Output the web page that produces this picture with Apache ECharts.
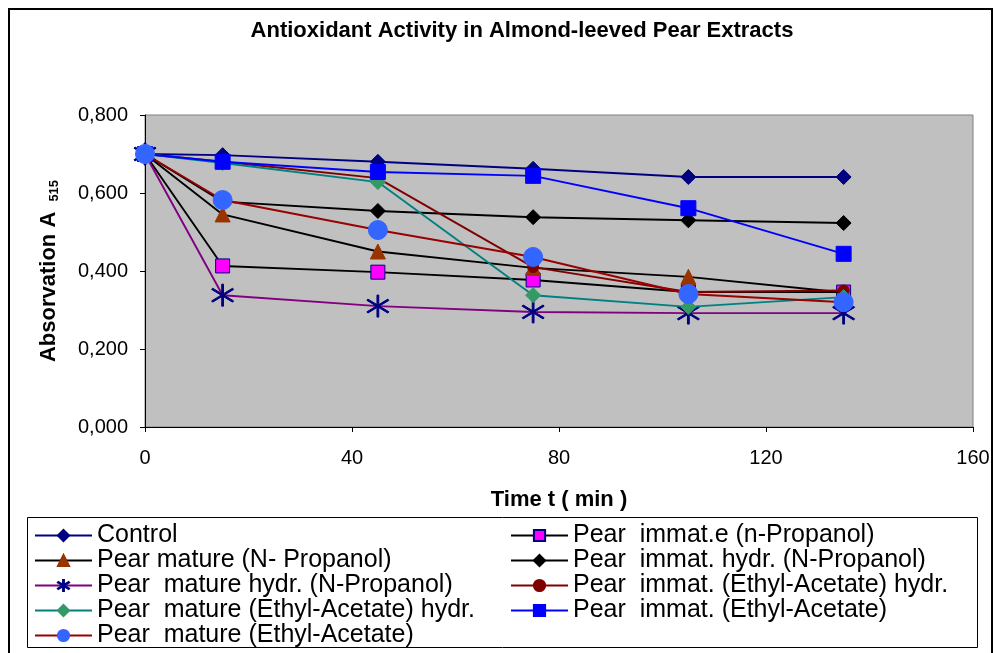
<!DOCTYPE html>
<html>
<head>
<meta charset="utf-8">
<script src="https://cdn.jsdelivr.net/npm/echarts@6/dist/echarts.min.js"></script>
<style>
html,body{margin:0;padding:0;background:#fff;}
#chart{width:993px;height:653px;}
</style>
</head>
<body>
<div id="chart"></div>
<script>
const times = [0, 15, 45, 75, 105, 135];
const xTicks = [0, 40, 80, 120, 160];
const yTicks = [0, 0.2, 0.4, 0.6, 0.8];

const seriesNames = [
  'Control',
  'Pear  immat.e (n-Propanol)',
  'Pear mature (N- Propanol)',
  'Pear  immat. hydr. (N-Propanol)',
  'Pear  mature hydr. (N-Propanol)',
  'Pear  immat. (Ethyl-Acetate) hydr.',
  'Pear  mature (Ethyl-Acetate) hydr.',
  'Pear  immat. (Ethyl-Acetate)',
  'Pear  mature (Ethyl-Acetate)'
];

const control            = [0.700, 0.697, 0.680, 0.662, 0.641, 0.641];
const immatNProp         = [0.700, 0.413, 0.397, 0.377, 0.346, 0.346];
const matureNProp        = [0.700, 0.545, 0.450, 0.408, 0.385, 0.345];
const immatHydrNProp     = [0.700, 0.578, 0.554, 0.538, 0.530, 0.523];
const matureHydrNProp    = [0.700, 0.338, 0.310, 0.295, 0.292, 0.292];
const immatEAHydr        = [0.700, 0.680, 0.638, 0.410, 0.346, 0.350];
const matureEAHydr       = [0.700, 0.677, 0.628, 0.338, 0.308, 0.333];
const immatEA            = [0.700, 0.680, 0.654, 0.644, 0.561, 0.444];
const matureEA           = [0.700, 0.582, 0.505, 0.436, 0.341, 0.320];

const allValues = [control, immatNProp, matureNProp, immatHydrNProp, matureHydrNProp,
                   immatEAHydr, matureEAHydr, immatEA, matureEA];

const asterisk = 'path://M9.3,0L10.7,0L10.7,20L9.3,20Z M18.55,15.2L17.75,16.35L1.45,4.8L2.25,3.65Z M2.25,16.35L1.45,15.2L17.75,3.65L18.55,4.8Z';

const styles = [
  {line:'#000080', symbol:'diamond', size:15, fill:'#000080', border:'#000080'},
  {line:'#000000', symbol:'rect', size:14, fill:'#FF00FF', border:'#000080'},
  {line:'#000000', symbol:'triangle', size:15, fill:'#993300', border:'#993300'},
  {line:'#000000', symbol:'diamond', size:15, fill:'#000000', border:'#000000'},
  {line:'#800080', symbol:asterisk, size:22, fill:'#000080', border:'#000080'},
  {line:'#800000', symbol:'circle', size:11, fill:'#800000', border:'#800000'},
  {line:'#008080', symbol:'diamond', size:15, fill:'#339966', border:'#339966'},
  {line:'#0000FF', symbol:'rect', size:15, fill:'#0000FF', border:'#0000FF'},
  {line:'#990000', symbol:'circle', size:19, fill:'#3366FF', border:'#3366FF'}
];

const FONT = 'Liberation Sans, Arial, sans-serif';

const series = seriesNames.map((name, i) => ({
  name: name,
  type: 'line',
  data: times.map((t, j) => [t, allValues[i][j]]),
  symbol: styles[i].symbol,
  symbolSize: styles[i].size,
  showAllSymbol: true,
  animation: false,
  lineStyle: {color: styles[i].line, width: 1.9},
  itemStyle: {color: styles[i].fill, borderColor: styles[i].border, borderWidth: 1},
  emphasis: {disabled: true},
  z: 2 + i
}));

const legendText = {fontFamily: FONT, fontSize: 25, color: '#000', lineHeight: 24};
const leftNames = [seriesNames[0], seriesNames[2], seriesNames[4], seriesNames[6], seriesNames[8]];
const rightNames = [seriesNames[1], seriesNames[3], seriesNames[5], seriesNames[7]];

const chart = echarts.init(document.getElementById('chart'), null, {renderer: 'canvas'});
chart.setOption({
  animation: false,
  backgroundColor: '#ffffff',
  title: {
    text: 'Antioxidant Activity in Almond-leeved Pear Extracts',
    left: 522, top: 20, textAlign: 'center', padding: 0,
    textStyle: {fontFamily: FONT, fontSize: 22, fontWeight: 'bold', color: '#000'}
  },
  grid: {
    left: 145, right: 20, top: 115, bottom: 226,
    show: true, backgroundColor: '#C0C0C0', borderColor: '#808080', borderWidth: 1
  },
  xAxis: {
    type: 'value', min: 0, max: 160, interval: 40,
    name: 'Time t ( min )', nameLocation: 'middle', nameGap: 62,
    nameTextStyle: {fontFamily: FONT, fontSize: 22, fontWeight: 'bold', color: '#000'},
    axisLine: {show: true, onZero: false, lineStyle: {color: '#000', width: 1}},
    axisTick: {show: true, inside: false, length: 5, lineStyle: {color: '#000'}},
    axisLabel: {margin: 21, fontFamily: FONT, fontSize: 20, color: '#000',
      formatter: v => xTicks.indexOf(v) >= 0 ? String(v) : ''},
    splitLine: {show: false}
  },
  yAxis: {
    type: 'value', min: 0, max: 0.8, interval: 0.2,
    name: '{a|Absorvation A }{s|515}', nameLocation: 'middle', nameGap: 84,
    nameTextStyle: {
      rich: {
        a: {fontFamily: FONT, fontSize: 22, fontWeight: 'bold', color: '#000'},
        s: {fontFamily: FONT, fontSize: 13, fontWeight: 'bold', color: '#000', padding: [12, 0, 0, 4]}
      }
    },
    axisLine: {show: true, lineStyle: {color: '#000', width: 1}},
    axisTick: {show: true, inside: false, length: 5, lineStyle: {color: '#000'}},
    axisLabel: {margin: 17, fontFamily: FONT, fontSize: 20, color: '#000',
      formatter: v => {
        const t = yTicks.find(y => Math.abs(y - v) < 1e-9);
        return t === undefined ? '' : t.toFixed(3).replace('.', ',');
      }},
    splitLine: {show: false}
  },
  legend: [
    {
      orient: 'vertical', left: 34, top: 523, padding: 0, itemGap: 0, itemWidth: 57, itemHeight: 14,
      data: leftNames, textStyle: legendText, selectedMode: false
    },
    {
      orient: 'vertical', left: 510, top: 523, padding: 0, itemGap: 0, itemWidth: 57, itemHeight: 14,
      data: rightNames, textStyle: legendText, selectedMode: false
    }
  ],
  graphic: [
    {type: 'rect', shape: {x: 9, y: 9, width: 983, height: 700}, style: {fill: 'none', stroke: '#000', lineWidth: 2}, silent: true},
    {type: 'rect', shape: {x: 27.5, y: 517.5, width: 950, height: 130}, style: {fill: 'none', stroke: '#000', lineWidth: 1}, silent: true}
  ],
  series: series
});
</script>
</body>
</html>
